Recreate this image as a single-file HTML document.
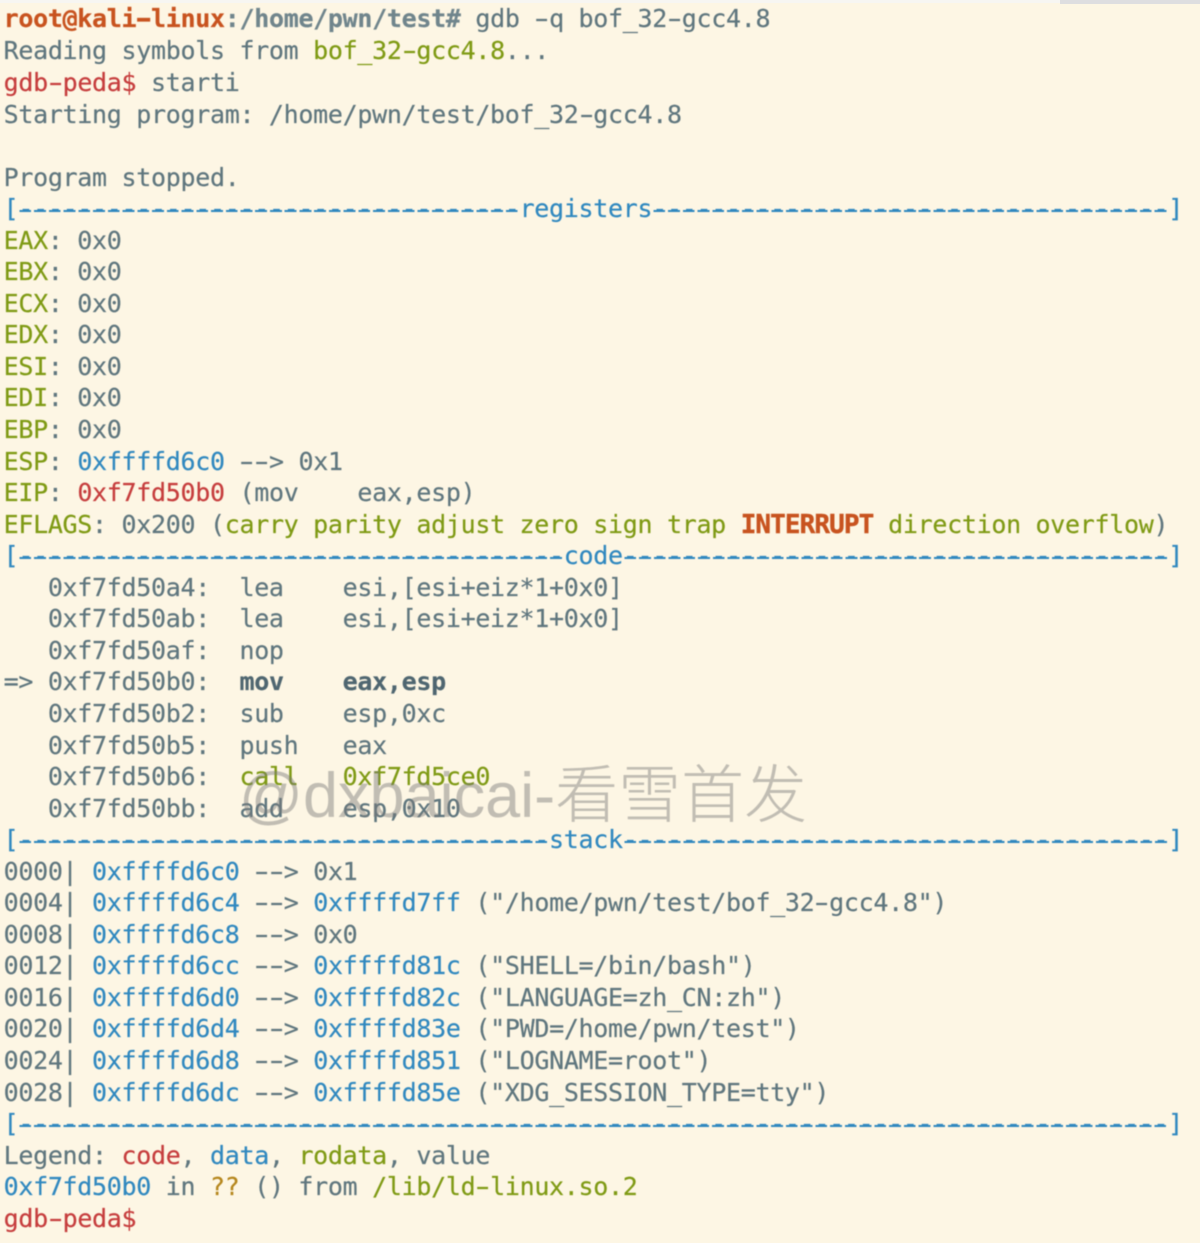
<!DOCTYPE html>
<html><head><meta charset="utf-8"><style>
html,body{margin:0;padding:0;background:#fdf6e4}
#p{position:relative;width:1200px;height:1243px;overflow:hidden;background:#fdf6e4}
#x{position:absolute;inset:0;font-family:"DejaVu Sans Mono","Liberation Mono",monospace;font-size:25px;letter-spacing:-.31px;color:#5f767e;filter:blur(.45px);-webkit-text-stroke:.2px currentColor}
.l{position:absolute;left:3.6px;margin-top:.4px;white-space:pre;line-height:31.55px;height:31.55px}
.g{color:#7f9a14}.r{color:#c63d3d}.b{color:#3088bf}
.o{color:#c8531f;font-weight:bold}.d{color:#4f6670;font-weight:bold}
.i{font-size:26px;letter-spacing:-.91px;-webkit-text-stroke:.4px currentColor}
.h{display:inline-block;transform:scaleX(1.65)}
.s{background:repeating-linear-gradient(90deg,transparent 0 1.4px,#3088bf 1.4px 13.2px,transparent 13.2px 14.74px) 0 15.5px/100% 2px no-repeat}
#w{position:absolute;left:239px;top:751px;font:300 63px/90px "Liberation Sans","Noto Sans CJK SC",sans-serif;color:rgba(120,120,120,.45);white-space:pre;filter:blur(.4px)}
#t1{position:absolute;left:0;top:0;width:1200px;height:3px;background:#f7f6f2}
#t2{position:absolute;left:1060px;top:0;width:140px;height:4px;background:#dedee0}
</style></head><body><div id="p">
<div id="t1"></div><div id="t2"></div>
<div id="x">
<div class="l" style="top:3px"><span class="o">root@kali<span class="h">-</span>linux</span><b style="color:#70858c">:/home/pwn/test#</b> gdb <span class="h">-</span>q bof_32<span class="h">-</span>gcc4.8</div>
<div class="l" style="top:35px">Reading symbols from <span class="g">bof_32<span class="h">-</span>gcc4.8</span>...</div>
<div class="l" style="top:66.6px"><span class="r">gdb<span class="h">-</span>peda$</span> starti</div>
<div class="l" style="top:98.2px">Starting program: /home/pwn/test/bof_32<span class="h">-</span>gcc4.8</div>
<div class="l" style="top:161.3px">Program stopped.</div>
<div class="l b" style="top:192.8px">[<span class="s">----------------------------------</span>registers<span class="s">-----------------------------------</span>]</div>
<div class="l" style="top:224.4px"><span class="g">EAX</span>: 0x0</div>
<div class="l" style="top:255.9px"><span class="g">EBX</span>: 0x0</div>
<div class="l" style="top:287.5px"><span class="g">ECX</span>: 0x0</div>
<div class="l" style="top:319px"><span class="g">EDX</span>: 0x0</div>
<div class="l" style="top:350.6px"><span class="g">ESI</span>: 0x0</div>
<div class="l" style="top:382.1px"><span class="g">EDI</span>: 0x0</div>
<div class="l" style="top:413.7px"><span class="g">EBP</span>: 0x0</div>
<div class="l" style="top:445.2px"><span class="g">ESP</span>: <span class="b">0xffffd6c0</span> <span class="h">-</span><span class="h">-</span>&gt; 0x1</div>
<div class="l" style="top:476.8px"><span class="g">EIP</span>: <span class="r">0xf7fd50b0</span> (mov    eax,esp)</div>
<div class="l" style="top:508.3px"><span class="g">EFLAGS</span>: 0x200 (<span class="g">carry parity adjust zero sign trap</span> <span class="o i">INTERRUPT</span> <span class="g">direction overflow</span>)</div>
<div class="l b" style="top:539.9px">[<span class="s">-------------------------------------</span>code<span class="s">-------------------------------------</span>]</div>
<div class="l" style="top:571.4px">   0xf7fd50a4:  lea    esi,[esi+eiz*1+0x0]</div>
<div class="l" style="top:603px">   0xf7fd50ab:  lea    esi,[esi+eiz*1+0x0]</div>
<div class="l" style="top:634.5px">   0xf7fd50af:  nop</div>
<div class="l" style="top:666.1px">=&gt; 0xf7fd50b0:  <span class="d">mov    eax,esp</span></div>
<div class="l" style="top:697.6px">   0xf7fd50b2:  sub    esp,0xc</div>
<div class="l" style="top:729.2px">   0xf7fd50b5:  push   eax</div>
<div class="l" style="top:760.7px">   0xf7fd50b6:  <span class="g">call   0xf7fd5ce0</span></div>
<div class="l" style="top:792.3px">   0xf7fd50bb:  add    esp,0x10</div>
<div class="l b" style="top:823.8px">[<span class="s">------------------------------------</span>stack<span class="s">-------------------------------------</span>]</div>
<div class="l" style="top:855.4px">0000| <span class="b">0xffffd6c0</span> <span class="h">-</span><span class="h">-</span>&gt; 0x1</div>
<div class="l" style="top:886.9px">0004| <span class="b">0xffffd6c4</span> <span class="h">-</span><span class="h">-</span>&gt; <span class="b">0xffffd7ff</span> ("/home/pwn/test/bof_32<span class="h">-</span>gcc4.8")</div>
<div class="l" style="top:918.5px">0008| <span class="b">0xffffd6c8</span> <span class="h">-</span><span class="h">-</span>&gt; 0x0</div>
<div class="l" style="top:950px">0012| <span class="b">0xffffd6cc</span> <span class="h">-</span><span class="h">-</span>&gt; <span class="b">0xffffd81c</span> ("SHELL=/bin/bash")</div>
<div class="l" style="top:981.6px">0016| <span class="b">0xffffd6d0</span> <span class="h">-</span><span class="h">-</span>&gt; <span class="b">0xffffd82c</span> ("LANGUAGE=zh_CN:zh")</div>
<div class="l" style="top:1013.1px">0020| <span class="b">0xffffd6d4</span> <span class="h">-</span><span class="h">-</span>&gt; <span class="b">0xffffd83e</span> ("PWD=/home/pwn/test")</div>
<div class="l" style="top:1044.7px">0024| <span class="b">0xffffd6d8</span> <span class="h">-</span><span class="h">-</span>&gt; <span class="b">0xffffd851</span> ("LOGNAME=root")</div>
<div class="l" style="top:1076.2px">0028| <span class="b">0xffffd6dc</span> <span class="h">-</span><span class="h">-</span>&gt; <span class="b">0xffffd85e</span> ("XDG_SESSION_TYPE=tty")</div>
<div class="l b" style="top:1107.8px">[<span class="s">------------------------------------------------------------------------------</span>]</div>
<div class="l" style="top:1139.3px">Legend: <span class="r">code</span>, <span class="b">data</span>, <span class="g">rodata</span>, value</div>
<div class="l" style="top:1170.9px"><span class="b">0xf7fd50b0</span> in <span style="color:#b5861c">??</span> () from <span class="g">/lib/ld<span class="h">-</span>linux.so.2</span></div>
<div class="l" style="top:1202.4px"><span class="r">gdb<span class="h">-</span>peda$</span></div>
</div>
<div id="w">@dxbaicai-看雪首发</div>
</div></body></html>
